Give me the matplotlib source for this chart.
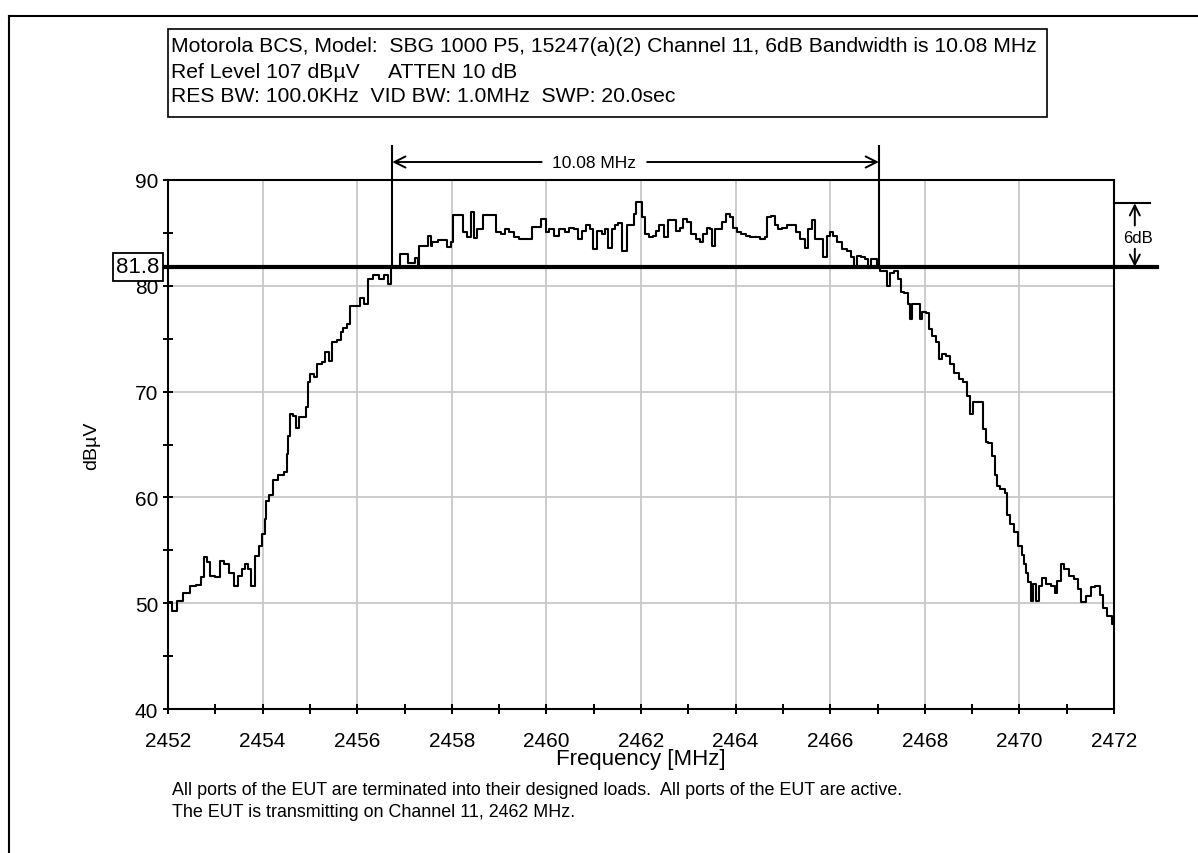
import matplotlib
matplotlib.use("Agg")
import matplotlib.pyplot as plt
from matplotlib.ticker import MultipleLocator
from matplotlib.patches import Rectangle
from matplotlib.lines import Line2D

plt.rcParams['font.family'] = ['Liberation Sans', 'DejaVu Sans']

title_lines = [
    "Motorola BCS, Model:  SBG 1000 P5, 15247(a)(2) Channel 11, 6dB Bandwidth is 10.08 MHz",
    "Ref Level 107 dB\u00b5V     ATTEN 10 dB",
    "RES BW: 100.0KHz  VID BW: 1.0MHz  SWP: 20.0sec",
]
footer_lines = [
    "All ports of the EUT are terminated into their designed loads.  All ports of the EUT are active.",
    "The EUT is transmitting on Channel 11, 2462 MHz.",
]
x_label = "Frequency [MHz]"
y_label = "dB\u00b5V"
ref_level = 81.8
bw_left = 2456.74
bw_right = 2467.03
bw_text = "10.08 MHz"
delta_text = "6dB"
delta_db = 6.0

freq = [2452.00, 2452.15, 2452.25, 2452.40, 2452.54, 2452.64, 2452.74, 2452.80, 2452.86, 2452.92,
        2453.06, 2453.13, 2453.24, 2453.35, 2453.44, 2453.52, 2453.59, 2453.68, 2453.72, 2453.79,
        2453.88, 2453.95, 2454.02, 2454.07, 2454.09, 2454.16, 2454.26, 2454.40, 2454.50, 2454.52,
        2454.56, 2454.61, 2454.68, 2454.74, 2454.78, 2454.92, 2454.93, 2454.97, 2455.04, 2455.12,
        2455.20, 2455.30, 2455.35, 2455.40, 2455.42, 2455.53, 2455.63, 2455.67, 2455.74, 2455.83,
        2455.88, 2456.02, 2456.10, 2456.20, 2456.27, 2456.41, 2456.50, 2456.62, 2456.70, 2456.75,
        2456.87, 2456.94, 2457.05, 2457.11, 2457.20, 2457.26, 2457.29, 2457.34, 2457.45, 2457.54,
        2457.57, 2457.61, 2457.82, 2457.96, 2458.02, 2458.05, 2458.20, 2458.28, 2458.38, 2458.45,
        2458.47, 2458.60, 2458.74, 2458.91, 2458.98, 2459.08, 2459.16, 2459.27, 2459.37, 2459.48,
        2459.69, 2459.72, 2459.86, 2459.90, 2459.97, 2460.00, 2460.10, 2460.22, 2460.33, 2460.44,
        2460.53, 2460.63, 2460.71, 2460.80, 2460.89, 2460.96, 2461.03, 2461.10, 2461.16, 2461.20,
        2461.26, 2461.36, 2461.41, 2461.48, 2461.55, 2461.66, 2461.73, 2461.83, 2461.87, 2461.90,
        2462.01, 2462.04, 2462.12, 2462.22, 2462.28, 2462.35, 2462.43, 2462.55, 2462.61, 2462.72,
        2462.78, 2462.85, 2462.93, 2463.03, 2463.10, 2463.21, 2463.28, 2463.35, 2463.42, 2463.48,
        2463.54, 2463.60, 2463.67, 2463.74, 2463.85, 2463.92, 2463.99, 2464.05, 2464.17, 2464.25,
        2464.37, 2464.47, 2464.58, 2464.65, 2464.69, 2464.80, 2464.87, 2464.94, 2465.03, 2465.13,
        2465.24, 2465.31, 2465.43, 2465.50, 2465.57, 2465.64, 2465.71, 2465.78, 2465.91, 2465.96,
        2466.03, 2466.10, 2466.20, 2466.31, 2466.41, 2466.49, 2466.53, 2466.60, 2466.70, 2466.76,
        2466.82, 2466.89, 2466.97, 2467.02, 2467.09, 2467.19, 2467.23, 2467.30, 2467.40, 2467.48,
        2467.53, 2467.60, 2467.69, 2467.70, 2467.74, 2467.86, 2467.92, 2467.97, 2468.07, 2468.12,
        2468.18, 2468.28, 2468.32, 2468.41, 2468.50, 2468.57, 2468.67, 2468.78, 2468.85, 2468.92,
        2468.99, 2469.06, 2469.20, 2469.27, 2469.31, 2469.38, 2469.45, 2469.52, 2469.55, 2469.65,
        2469.72, 2469.77, 2469.84, 2469.93, 2470.01, 2470.08, 2470.12, 2470.15, 2470.22, 2470.26,
        2470.31, 2470.39, 2470.42, 2470.54, 2470.60, 2470.72, 2470.77, 2470.83, 2470.91, 2470.99,
        2471.10, 2471.20, 2471.28, 2471.34, 2471.46, 2471.57, 2471.64, 2471.75, 2471.80, 2471.91,
        2472.00]
level = [50.1, 49.3, 50.2, 51.0, 51.6, 51.7, 52.5, 54.4, 53.9, 52.6,
         52.5, 54.0, 53.7, 52.9, 51.6, 52.6, 53.2, 53.7, 53.2, 51.6,
         54.5, 55.4, 56.5, 58.0, 59.7, 60.2, 61.6, 62.1, 62.4, 64.1,
         65.8, 67.9, 67.7, 66.6, 67.6, 67.6, 68.5, 70.9, 71.7, 71.4,
         72.6, 72.8, 73.7, 73.7, 72.9, 74.7, 74.9, 75.6, 76.0, 76.4,
         78.1, 78.1, 78.8, 78.3, 80.6, 81.0, 80.6, 81.0, 80.2, 81.9,
         81.7, 83.0, 83.0, 82.2, 82.2, 82.6, 81.7, 83.8, 83.8, 84.7,
         83.8, 84.1, 84.3, 83.7, 84.1, 86.7, 86.7, 85.1, 84.6, 87.0,
         84.5, 85.4, 86.7, 86.7, 85.1, 84.9, 85.4, 85.1, 84.6, 84.4,
         84.4, 85.6, 85.6, 86.3, 86.3, 85.1, 85.4, 84.7, 85.4, 85.1,
         85.5, 85.4, 84.4, 85.2, 85.7, 85.4, 83.5, 85.2, 85.2, 84.9,
         85.4, 83.6, 85.4, 85.7, 85.9, 83.3, 85.7, 85.7, 86.8, 87.9,
         87.9, 86.5, 84.9, 84.6, 84.7, 85.2, 85.7, 84.6, 86.2, 86.2,
         85.2, 85.5, 86.3, 86.0, 84.9, 84.4, 84.1, 84.9, 85.5, 85.4,
         83.8, 85.4, 85.4, 86.0, 86.8, 86.5, 85.5, 85.1, 84.9, 84.7,
         84.6, 84.6, 84.4, 84.6, 86.5, 86.6, 85.7, 85.4, 85.5, 85.7,
         85.7, 85.1, 84.4, 83.6, 85.4, 86.2, 84.4, 84.4, 82.7, 84.7,
         85.1, 84.7, 84.1, 83.5, 83.3, 82.7, 81.9, 82.8, 82.7, 82.5,
         81.7, 82.5, 82.5, 81.9, 81.4, 81.4, 80.0, 81.2, 81.4, 80.6,
         79.4, 79.3, 78.3, 76.9, 78.3, 78.3, 76.9, 77.5, 77.4, 75.9,
         75.3, 74.7, 73.1, 73.6, 73.4, 72.6, 71.8, 71.2, 70.9, 69.6,
         67.9, 69.0, 69.0, 66.5, 65.2, 65.1, 63.9, 62.1, 61.1, 60.8,
         60.4, 58.3, 57.5, 56.7, 55.4, 54.6, 53.7, 52.9, 52.0, 50.2,
         51.8, 50.2, 51.6, 52.4, 51.8, 51.6, 51.0, 52.1, 53.7, 53.2,
         52.6, 52.3, 51.3, 50.1, 50.7, 51.5, 51.6, 50.8, 49.5, 48.8,
         48.0]

W, H = 1198, 854
fig = plt.figure(figsize=(W / 100, H / 100), dpi=100)
L, R, T, B = 168, 1114, 181, 710
ax = fig.add_axes([L / W, 1 - B / H, (R - L) / W, (B - T) / H])

ax.plot(freq, level, color='black', lw=1.5, zorder=3, drawstyle='steps-mid')
ax.set_xlim(2452, 2472)
ax.set_ylim(40, 90)
ax.xaxis.set_major_locator(MultipleLocator(2))
ax.xaxis.set_minor_locator(MultipleLocator(1))
ax.yaxis.set_major_locator(MultipleLocator(10))
ax.yaxis.set_minor_locator(MultipleLocator(5))
ax.grid(True, which='major', color='#c8c8c8', lw=1.3, zorder=1)
ax.tick_params(which='both', direction='inout', length=7, width=1.4, labelsize=15,
               colors='black')
ax.tick_params(axis='x', pad=12)
for s in ax.spines.values():
    s.set_linewidth(1.5)
    s.set_zorder(4)

ax.set_xlabel(x_label, fontsize=16)
ax.xaxis.set_label_coords(0.5, -(760 - B) / (B - T))
ax.xaxis.label.set_verticalalignment('center')
ax.set_ylabel(y_label, fontsize=14)
ax.yaxis.set_label_coords(-(L - 92) / (R - L), 0.5)
ax.yaxis.label.set_verticalalignment('center')

# reference line
ax.plot([2451.85, 2472.9], [ref_level, ref_level], color='black', lw=3, clip_on=False, zorder=5)
ax.text(2451.36, ref_level, f"{ref_level:.1f}", fontsize=16, ha='center', va='center',
        bbox=dict(boxstyle='square,pad=0.15', fc='white', ec='black', lw=1.3), zorder=6,
        clip_on=False)

# bandwidth markers
top_y = 93.2
for xv in (bw_left, bw_right):
    ax.plot([xv, xv], [ref_level, top_y], color='black', lw=1.5, clip_on=False, zorder=5)
arr_y = 91.7
ax.annotate("", xy=(bw_left, arr_y), xytext=(2459.9, arr_y),
            arrowprops=dict(arrowstyle='->', lw=1.4, color='black', mutation_scale=20,
                            shrinkA=0, shrinkB=0), annotation_clip=False)
ax.annotate("", xy=(bw_right, arr_y), xytext=(2462.13, arr_y),
            arrowprops=dict(arrowstyle='->', lw=1.4, color='black', mutation_scale=20,
                            shrinkA=0, shrinkB=0), annotation_clip=False)
ax.text(2461.0, arr_y, bw_text, fontsize=12.5, ha='center', va='center', clip_on=False)

# 6dB markers
top6 = ref_level + delta_db
ax.plot([2472.0, 2472.76], [top6, top6], color='black', lw=1.5, clip_on=False)
xa = 2472.44
ax.annotate("", xy=(xa, top6), xytext=(xa, 85.7),
            arrowprops=dict(arrowstyle='->', lw=1.4, color='black', mutation_scale=18,
                            shrinkA=0, shrinkB=0), annotation_clip=False)
ax.annotate("", xy=(xa, ref_level), xytext=(xa, 83.5),
            arrowprops=dict(arrowstyle='->', lw=1.4, color='black', mutation_scale=18,
                            shrinkA=0, shrinkB=0), annotation_clip=False)
ax.text(xa + 0.06, 84.6, delta_text, fontsize=12, ha='center', va='center', clip_on=False)

# title box
bx0, by0, bx1, by1 = 168, 30, 1047, 118
fig.patches.append(Rectangle((bx0 / W, 1 - by1 / H), (bx1 - bx0) / W, (by1 - by0) / H,
                             transform=fig.transFigure, fill=False, ec='black', lw=1.2))
for i, t in enumerate(title_lines):
    fig.text(171 / W, 1 - (47 + 25 * i) / H, t, fontsize=15.2, ha='left', va='center')

# footer
for i, t in enumerate(footer_lines):
    fig.text(172 / W, 1 - (791 + 22 * i) / H, t, fontsize=12.9, ha='left', va='center')

# page frame (top and left)
fig.add_artist(Line2D([9 / W, 1], [1 - 17 / H, 1 - 17 / H], transform=fig.transFigure,
                      color='black', lw=1.5))
fig.add_artist(Line2D([9 / W, 9 / W], [0, 1 - 17 / H], transform=fig.transFigure,
                      color='black', lw=1.5))

fig.savefig("out.png", dpi=100)
